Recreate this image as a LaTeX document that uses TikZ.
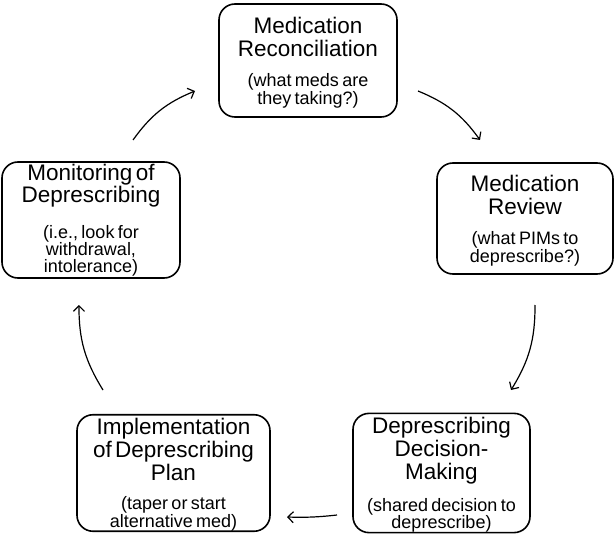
\documentclass[tikz,border=0pt]{standalone}
\usepackage{fontspec}
\setmainfont{Liberation Sans}
\usetikzlibrary{arrows.meta}
\newcommand{\ttl}{\fontsize{22.5}{23}\selectfont\rule{0pt}{20pt}}
\newcommand{\ttlb}{\fontsize{22.5}{22}\selectfont}
\newcommand{\sbt}{\fontsize{18}{16}\selectfont}
\newcommand{\sbtb}{\fontsize{18}{15.5}\selectfont}
\tikzset{
  stagebox/.style={draw, line width=1.6pt, rounded corners=16pt, align=center, inner sep=0pt},
  cyc/.style={line width=1.2pt, -{Straight Barb[length=5.5pt,width=11pt,line width=1.2pt]}, bend left=16}
}
\begin{document}
\begin{tikzpicture}[x=1pt,y=-1pt]
\useasboundingbox (0,0) rectangle (615,534);
\node[stagebox, minimum width=178pt, minimum height=113pt, text width=176pt] (rec) at (308,60.5)
  {\ttl Medication\\Reconciliation\par\vspace{14pt}\sbt (what meds are\\they taking?)};
\node[stagebox, minimum width=176pt, minimum height=111pt, text width=174pt] (rev) at (525,218.5)
  {\ttl Medication\\Review\par\vspace{14pt}\sbt (what PIMs to\\deprescribe?)};
\node[stagebox, minimum width=177pt, minimum height=116pt, text width=175pt] (dec) at (441.5,473)
  {\ttl Deprescribing\\Decision-\\Making\par\vspace{13pt}\sbt (shared decision to\\deprescribe)};
\node[stagebox, minimum width=193pt, minimum height=116pt, text width=191pt] (imp) at (173.5,473)
  {\ttl Implementation\\of Deprescribing\\Plan\par\vspace{13pt}\sbt (taper or start\\alternative med)};
\node[stagebox, minimum width=178pt, minimum height=116pt, text width=176pt] (mon) at (91,220)
  {\ttlb Monitoring of\\Deprescribing\par\vspace{17pt}\sbtb (i.e., look for\\withdrawal,\\intolerance)};
\coordinate (a1s) at (133,140); \coordinate (a1e) at (195,91);
\coordinate (a2s) at (418,91);  \coordinate (a2e) at (480,140);
\coordinate (a3s) at (535,305); \coordinate (a3e) at (511,390);
\coordinate (a4s) at (337,515); \coordinate (a4e) at (287,517);
\coordinate (a5s) at (103,390); \coordinate (a5e) at (79,305);
\draw[cyc] (a1s) to (a1e);
\draw[cyc] (a2s) to (a2e);
\draw[cyc] (a3s) to (a3e);
\draw[cyc, bend left=4] (a4s) to (a4e);
\draw[cyc] (a5s) to (a5e);
\end{tikzpicture}
\end{document}
